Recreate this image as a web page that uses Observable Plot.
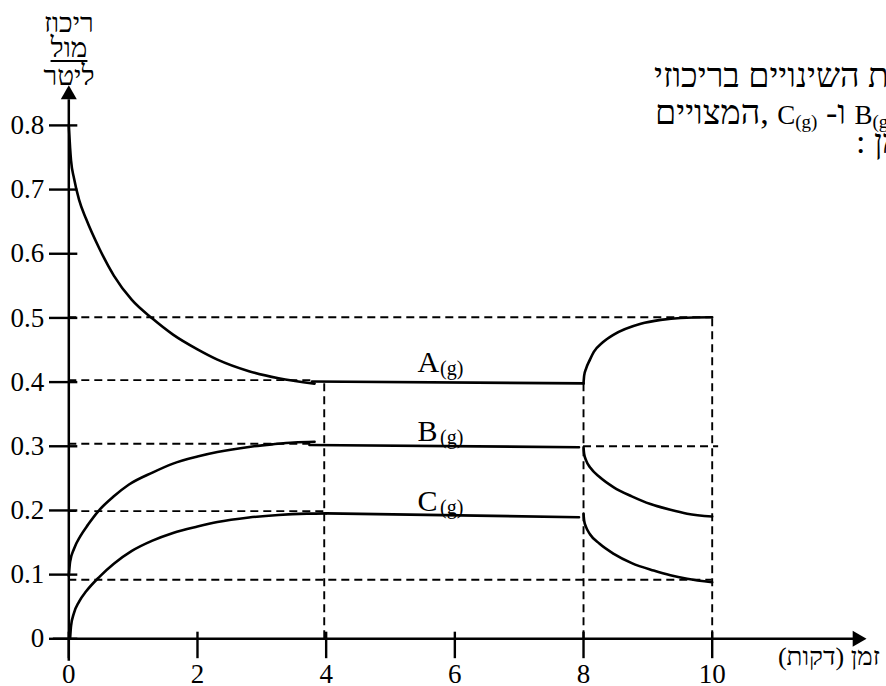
<!DOCTYPE html>
<html lang="he">
<head>
<meta charset="utf-8">
<script src="https://cdn.jsdelivr.net/npm/d3@7"></script>
<script src="https://cdn.jsdelivr.net/npm/@observablehq/plot@0.6"></script>
<style>
  html, body { margin: 0; padding: 0; background: #fff; }
  #wrap {
    position: relative; width: 886px; height: 686px; overflow: hidden;
    font-family: "Liberation Serif", "DejaVu Sans", serif; color: #000;
  }
  #wrap svg { position: absolute; left: 0; top: 0; }
  .txt { position: absolute; white-space: nowrap; line-height: 0.85; direction: rtl; }
  .lat { font-size: 27px; }
  .lat sub { font-size: 19px; vertical-align: -4px; line-height: 0; }
</style>
</head>
<body>
<div id="wrap">
  <div class="txt" id="ylab1" style="font-size:28px">ריכוז</div>
  <div class="txt" id="ylab2" style="font-size:28px;text-decoration:underline;text-decoration-thickness:2px;text-underline-offset:3px">מול</div>
  <div class="txt" id="ylab3" style="font-size:28px">ליטר</div>
  <div class="txt" id="xlab" style="font-size:26px">זמן (דקות)</div>
  <div class="txt" id="note1" style="font-size:34px">את השינויים בריכוזי</div>
  <div class="txt" id="note2" style="font-size:34px"><span class="lat">B<sub>(g)</sub></span> ו- <span class="lat">C<sub>(g)</sub></span> ,המצויים</div>
  <div class="txt" id="note3" style="font-size:34px">הזמן :</div>
</div>
<script>
// Axis ticks
const xTicks = [0, 2, 4, 6, 8, 10];
const yTicks = [0, 0.1, 0.2, 0.3, 0.4, 0.5, 0.6, 0.7, 0.8];
const yTickLabels = ["0", "0.1", "0.2", "0.3", "0.4", "0.5", "0.6", "0.7", "0.8"];

// A(g): falls from 0.8, levels off, then rises after the change at t = 8
const timeA = [0, 0.02, 0.035, 0.08, 0.16, 0.27, 0.48, 0.7, 0.98, 1.3, 1.62, 2.0, 2.31, 2.8, 3.26, 3.82];
const concA = [0.800, 0.765, 0.745, 0.718, 0.684, 0.654, 0.607, 0.566, 0.528, 0.499, 0.474, 0.451, 0.435, 0.417, 0.406, 0.3976];
const timeAFlat = [3.78, 8];
const concAFlat = [0.401, 0.398];
const timeARise = [8, 8.01, 8.04, 8.1, 8.16, 8.3, 8.47, 8.89, 9.2, 9.51, 10];
const concARise = [0.398, 0.410, 0.421, 0.435, 0.447, 0.462, 0.474, 0.491, 0.497, 0.500, 0.501];

// B(g)
const timeB = [0, 0.02, 0.08, 0.18, 0.3, 0.46, 0.7, 0.93, 1.3, 1.62, 2.0, 2.31, 2.8, 3.16, 3.5, 3.82];
const concB = [0.098, 0.120, 0.140, 0.160, 0.178, 0.199, 0.222, 0.240, 0.259, 0.273, 0.284, 0.291, 0.299, 0.303, 0.306, 0.307];
const timeBFlat = [3.74, 7.93];
const concBFlat = [0.302, 0.2985];
const timeBDrop = [8, 8.01, 8.04, 8.11, 8.25, 8.47, 8.75, 9.04, 9.35, 9.61, 10];
const concBDrop = [0.2985, 0.288, 0.278, 0.266, 0.252, 0.236, 0.222, 0.210, 0.201, 0.195, 0.1906];

// C(g)
const timeC = [0.02, 0.035, 0.08, 0.16, 0.27, 0.48, 0.7, 0.98, 1.3, 1.62, 2.0, 2.31, 2.8, 3.26, 3.7, 4.0];
const concC = [0, 0.020, 0.040, 0.058, 0.074, 0.097, 0.117, 0.137, 0.153, 0.165, 0.175, 0.182, 0.189, 0.193, 0.195, 0.1955];
const timeCFlat = [4.0, 7.93];
const concCFlat = [0.1955, 0.1895];
const timeCDrop = [8, 8.01, 8.04, 8.1, 8.25, 8.47, 8.75, 9.09, 9.35, 9.61, 10];
const concCDrop = [0.195, 0.184, 0.174, 0.163, 0.148, 0.1324, 0.118, 0.1064, 0.099, 0.0935, 0.088];

// Curve names and where they are written
const curveNames = ["A", "B", "C"];
const labelTime = [5.42, 5.42, 5.42];
const labelConc = [0.4154, 0.3079, 0.1988];

// Dashed reference lines
const hGuideLevel = [0.501, 0.403, 0.304, 0.300, 0.199, 0.092];
const hGuideFrom  = [0, 0, 0, 8, 0, 0];
const hGuideTo    = [10, 3.8, 3.8, 10.1, 4, 10];
const vGuideTime  = [3.97, 8, 10];
const vGuideTop   = [0.401, 0.398, 0.501];

// Axis extents (data units), tick lengths and arrow positions
const xAxisExtent = [-0.24, 12.2];
const yAxisExtent = [-0.035, 0.84];
const xTickExtent = [-0.031, 0.0103];
const yTickExtent = [-0.30, 0.14];
const xArrow = {t: 12.255, c: 0};
const yArrow = {t: 0, c: 0.848};

const rows = (ts, cs) => ts.map((t, i) => ({t, c: cs[i]}));
const seg = (levels, from, to) => levels.map((v, i) => ({v, a: from[i], b: to[i]}));

const lineStyle = {x: "t", y: "c", stroke: "#000", strokeWidth: 2.6, curve: "monotone-x"};
const flatStyle = {x: "t", y: "c", stroke: "#000", strokeWidth: 2.6};
const dash = {stroke: "#000", strokeWidth: 1.9, strokeDasharray: "8,5"};

const chart = Plot.plot({
  width: 886,
  height: 686,
  marginLeft: 68.3,
  marginRight: 174.3,
  marginTop: 124.9,
  marginBottom: 47.7,
  x: {domain: [0, 10], axis: null},
  y: {domain: [0, 0.8], axis: null},
  style: {
    fontFamily: '"Liberation Serif", "Times New Roman", serif',
    background: "transparent",
    color: "#000",
    overflow: "visible"
  },
  marks: [
    // dashed guides
    Plot.ruleY(seg(hGuideLevel, hGuideFrom, hGuideTo), {y: "v", x1: "a", x2: "b", ...dash}),
    Plot.ruleX(vGuideTime.map((t, i) => ({t, top: vGuideTop[i]})), {x: "t", y1: 0, y2: "top", ...dash}),

    // axes
    Plot.ruleY([0], {x1: xAxisExtent[0], x2: xAxisExtent[1], stroke: "#000", strokeWidth: 2.5}),
    Plot.ruleX([0], {y1: yAxisExtent[0], y2: yAxisExtent[1], stroke: "#000", strokeWidth: 2.5}),
    Plot.ruleX(xTicks, {x: d => d, y1: xTickExtent[0], y2: xTickExtent[1], stroke: "#000", strokeWidth: 2.4}),
    Plot.ruleY(yTicks, {y: d => d, x1: yTickExtent[0], x2: yTickExtent[1], stroke: "#000", strokeWidth: 2.4}),
    Plot.dot([yArrow], {x: "t", y: "c", symbol: "triangle", r: 5.94, fill: "#000", stroke: null}),
    Plot.dot([xArrow], {x: "t", y: "c", symbol: "triangle", r: 5.94, fill: "#000", stroke: null, rotate: 90}),

    // tick labels
    Plot.text(xTicks, {x: d => d, y: 0, text: d => String(d), dy: 44.5, lineAnchor: "bottom", fontSize: 27, fill: "#000"}),
    Plot.text(yTicks, {x: 0, y: d => d, text: (d, i) => yTickLabels[i], textAnchor: "end", dx: -24.5, fontSize: 27, fill: "#000"}),

    // concentration curves
    Plot.line(rows(timeA, concA), lineStyle),
    Plot.line(rows(timeAFlat, concAFlat), flatStyle),
    Plot.line(rows(timeARise, concARise), lineStyle),
    Plot.line(rows(timeB, concB), lineStyle),
    Plot.line(rows(timeBFlat, concBFlat), flatStyle),
    Plot.line(rows(timeBDrop, concBDrop), lineStyle),
    Plot.line(rows(timeC, concC), lineStyle),
    Plot.line(rows(timeCFlat, concCFlat), flatStyle),
    Plot.line(rows(timeCDrop, concCDrop), lineStyle),

    // curve names with the (g) state subscript
    Plot.text(curveNames, {x: (d, i) => labelTime[i], y: (d, i) => labelConc[i], text: d => d,
      textAnchor: "start", lineAnchor: "bottom", fontSize: 30, fill: "#000"}),
    Plot.text(curveNames, {x: (d, i) => labelTime[i], y: (d, i) => labelConc[i], text: () => "(g)",
      textAnchor: "start", lineAnchor: "bottom", dx: 22.5, dy: 3, fontSize: 20, fill: "#000"})
  ]
});

const wrap = document.getElementById("wrap");
wrap.insertBefore(chart, wrap.firstChild);

// Place an HTML text line so that its baseline sits at y
function place(id, y, opts) {
  const el = document.getElementById(id);
  const mark = document.createElement("span");
  mark.style.cssText = "display:inline-block;width:0;height:0;vertical-align:baseline";
  el.appendChild(mark);
  el.style.top = "0px";
  if (opts.left != null) el.style.left = opts.left + "px";
  if (opts.right != null) el.style.right = opts.right + "px";
  if (opts.center != null) {
    el.style.left = (opts.center - el.getBoundingClientRect().width / 2) + "px";
  }
  const off = mark.getBoundingClientRect().top - el.getBoundingClientRect().top;
  el.style.top = (y - off) + "px";
  mark.remove();
}
place("ylab1", 31.7, {center: 69});
place("ylab2", 56.7, {center: 69});
place("ylab3", 85, {center: 69});
place("xlab", 665, {right: 6});
place("note1", 87, {left: 654});
place("note2", 124, {left: 655});
place("note3", 153, {left: 856});
</script>
</body>
</html>
